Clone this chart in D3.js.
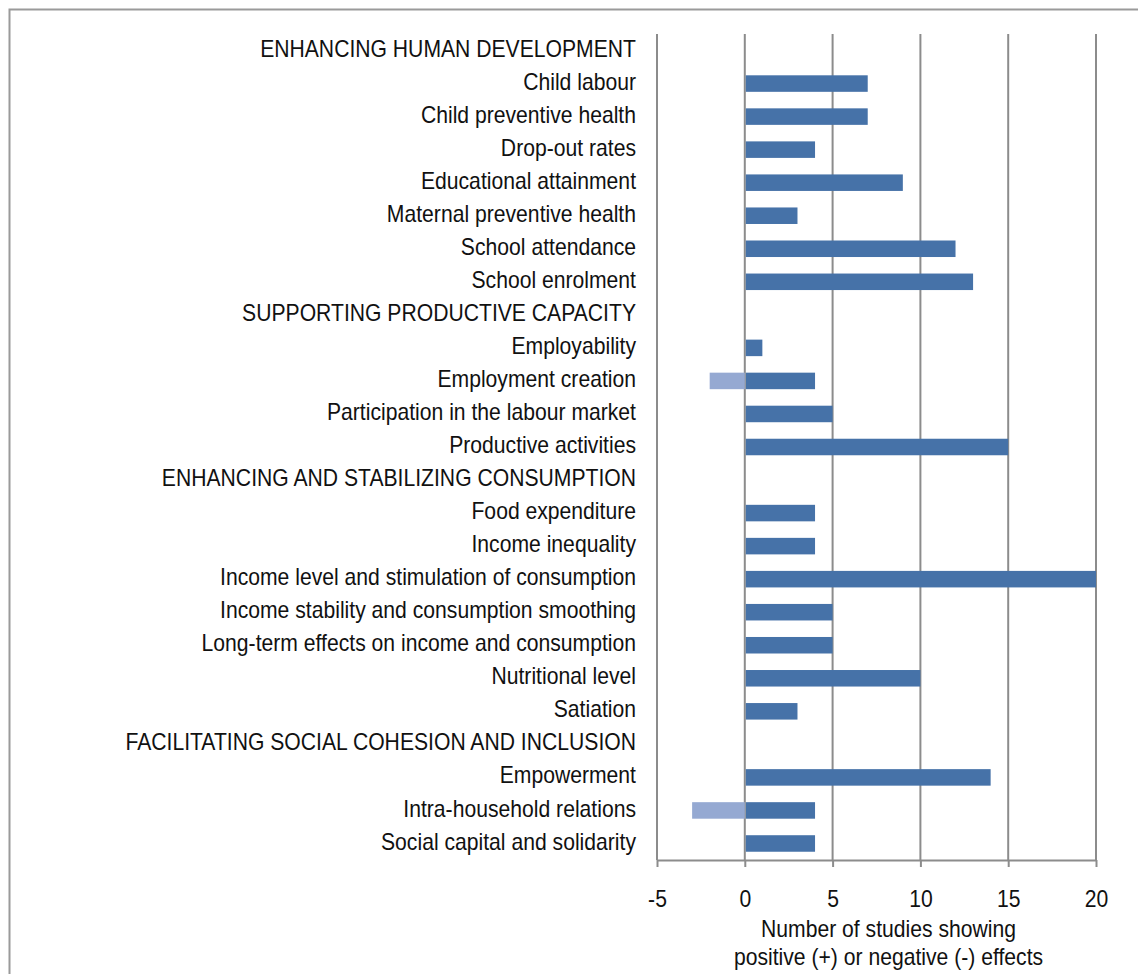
<!DOCTYPE html>
<html>
<head>
<meta charset="utf-8">
<script src="https://cdn.jsdelivr.net/npm/d3@7"></script>
<style>
  body { margin: 0; background: #fff; }
  text { font-family: "Liberation Sans Narrow", "Arial Narrow", "Liberation Sans", sans-serif; fill: #111; }
</style>
</head>
<body>
<div id="chart"></div>
<script>
// categories, top to bottom (headers have no bars)
var categories = [
  "ENHANCING HUMAN DEVELOPMENT", "Child labour", "Child preventive health", "Drop-out rates",
  "Educational attainment", "Maternal preventive health", "School attendance", "School enrolment",
  "SUPPORTING PRODUCTIVE CAPACITY", "Employability", "Employment creation",
  "Participation in the labour market", "Productive activities",
  "ENHANCING AND STABILIZING CONSUMPTION", "Food expenditure", "Income inequality",
  "Income level and stimulation of consumption", "Income stability and consumption smoothing",
  "Long-term effects on income and consumption", "Nutritional level", "Satiation",
  "FACILITATING SOCIAL COHESION AND INCLUSION", "Empowerment", "Intra-household relations",
  "Social capital and solidarity"
]
var positive = [0, 7, 7, 4, 9, 3, 12, 13, 0, 1, 4, 5, 15, 0, 4, 4, 20, 5, 5, 10, 3, 0, 14, 4, 4]
var negative = [0, 0, 0, 0, 0, 0, 0, 0, 0, 0, -2, 0, 0, 0, 0, 0, 0, 0, 0, 0, 0, 0, 0, -3, 0]
var tickValues = [-5, 0, 5, 10, 15, 20]
var axisTitle = ["Number of studies showing", "positive (+) or negative (-) effects"]

var W = 1138, H = 974
var margin = { top: 34, left: 657, right: 42, bottom: 114 }
var width = W - margin.left - margin.right,
    height = H - margin.top - margin.bottom
var squeeze = 0.92   // narrow look of the original font

var svg = d3.select("#chart").append("svg")
  .attr("width", W).attr("height", H)

// outer frame (continues past the picture edges)
svg.append("rect")
  .attr("x", 9.5).attr("y", 9.5).attr("width", 1200).attr("height", 1100)
  .attr("fill", "none").attr("stroke", "#9a9a9a").attr("stroke-width", 2)

var g = svg.append("g")
  .attr("transform", "translate(" + margin.left + "," + margin.top + ")")

var x = d3.scaleLinear().domain([-5, 20]).range([0, width])
var y = d3.scaleBand().domain(categories).range([0, height]).paddingInner(0.5).paddingOuter(0.25)

// vertical gridlines
g.selectAll(".grid").data(tickValues).enter().append("line")
  .attr("x1", function (d) { return x(d) }).attr("x2", function (d) { return x(d) })
  .attr("y1", 0).attr("y2", height)
  .attr("stroke", "#8c8c8c").attr("stroke-width", 2)

// bars
var rows = categories.map(function (c, i) { return { cat: c, pos: positive[i], neg: negative[i] } })

g.selectAll(".neg").data(rows.filter(function (d) { return d.neg < 0 })).enter().append("rect")
  .attr("x", function (d) { return x(d.neg) })
  .attr("y", function (d) { return y(d.cat) })
  .attr("width", function (d) { return x(0) - x(d.neg) })
  .attr("height", y.bandwidth())
  .attr("fill", "#95a9d2")

g.selectAll(".pos").data(rows.filter(function (d) { return d.pos > 0 })).enter().append("rect")
  .attr("x", x(0) + 1)
  .attr("y", function (d) { return y(d.cat) })
  .attr("width", function (d) { return x(d.pos) - x(0) - 1 })
  .attr("height", y.bandwidth())
  .attr("fill", "#4672a8")

// category labels
var bandStep = height / categories.length
g.selectAll(".lab").data(categories).enter().append("text")
  .attr("transform", function (d, i) {
    return "translate(-21," + ((i + 0.5) * bandStep - 2) + ") scale(" + squeeze + ",1)"
  })
  .attr("dy", "0.35em")
  .attr("text-anchor", "end")
  .style("font-size", "23px")
  .text(function (d) { return d })

// x axis
var xAxis = g.append("g")
  .attr("transform", "translate(0," + height + ")")
  .call(d3.axisBottom(x).tickValues(tickValues).tickFormat(function (d) { return String(d) })
    .tickSize(7).tickPadding(24).tickSizeOuter(0))
xAxis.select(".domain").attr("stroke", "#8c8c8c").attr("stroke-width", 2)
xAxis.selectAll(".tick line").attr("stroke", "#8c8c8c").attr("stroke-width", 2)
xAxis.selectAll(".tick text")
  .style("font-size", "23px").attr("fill", "#111")
  .attr("transform", "scale(" + squeeze + ",1)")
  .attr("x", 0)

// axis title
var titleX = (x(-5) + x(20)) / 2 + 12
g.append("text")
  .attr("transform", "translate(" + titleX + "," + (height + 77) + ") scale(" + squeeze + ",1)")
  .attr("text-anchor", "middle")
  .style("font-size", "23px")
  .selectAll("tspan").data(axisTitle).enter().append("tspan")
  .attr("x", 0).attr("dy", function (d, i) { return i ? 28 : 0 })
  .text(function (d) { return d })
</script>
</body>
</html>
